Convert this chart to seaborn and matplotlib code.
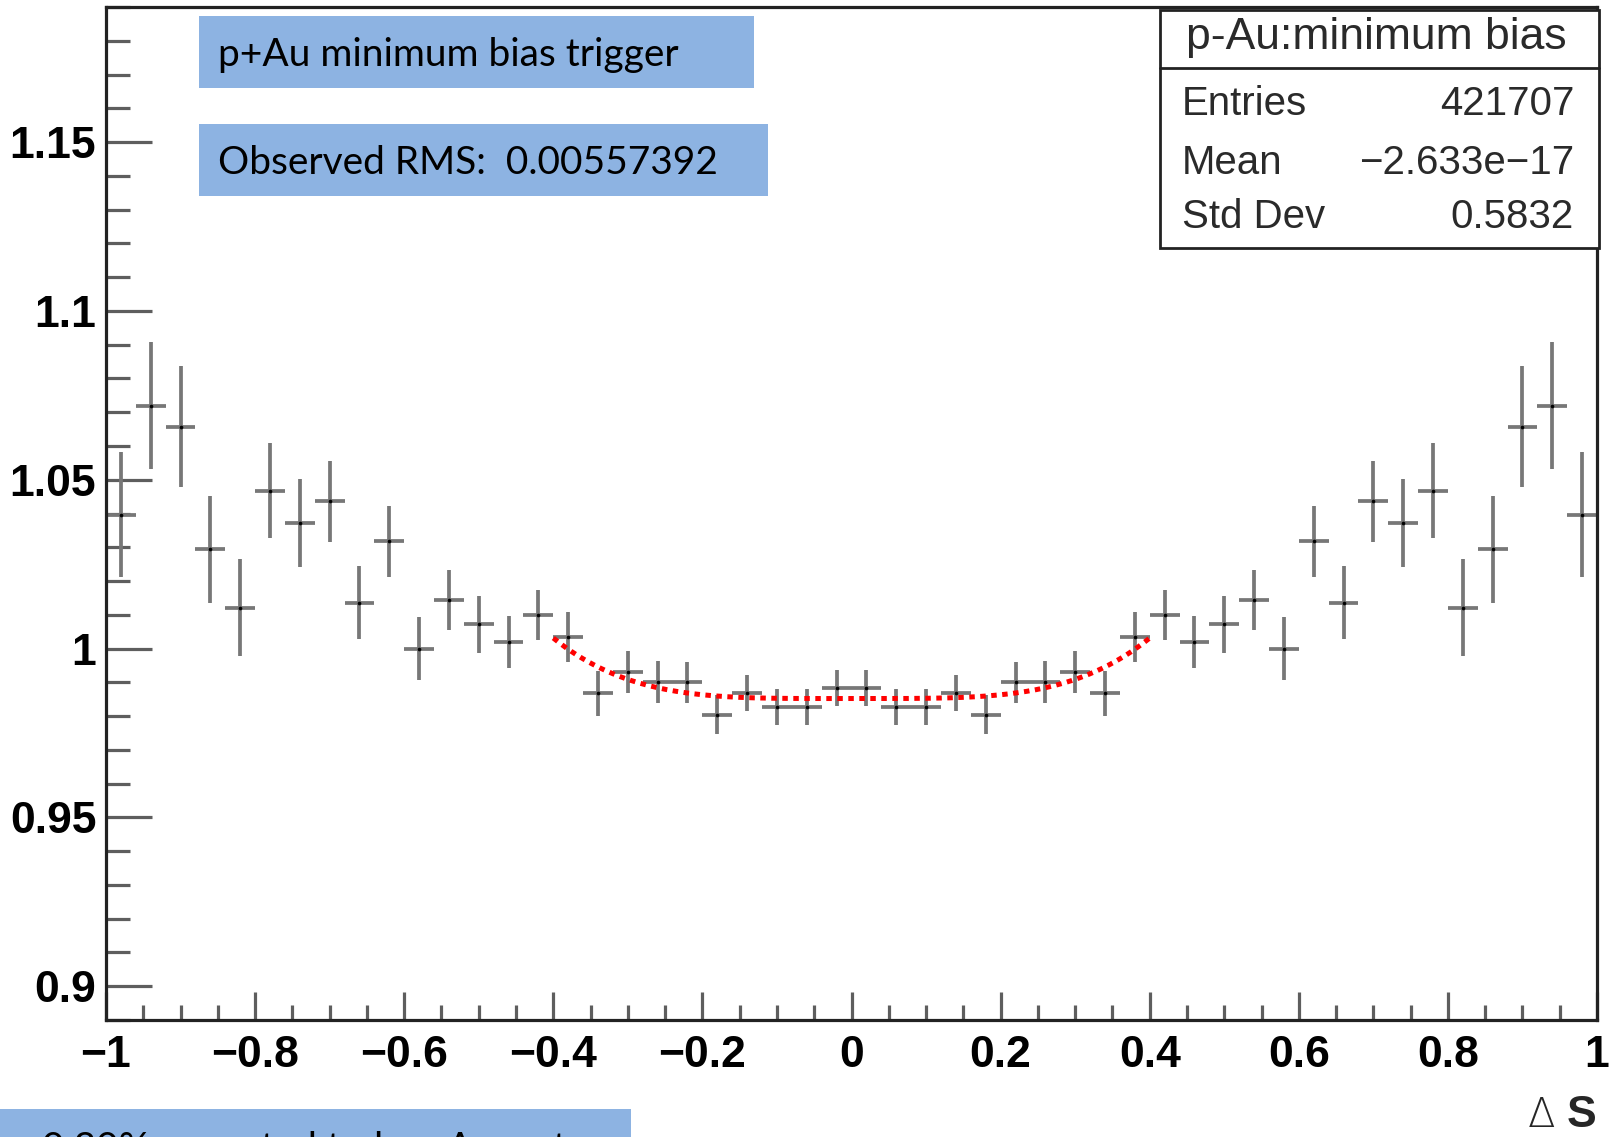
import numpy as np
import matplotlib
matplotlib.use("Agg")
import matplotlib.pyplot as plt
import seaborn as sns
from matplotlib.patches import Rectangle
from matplotlib.ticker import MultipleLocator

sns.set_style("ticks")

# histogram: 50 bins on [-1, 1]
n_bins = 50
x_lo, x_hi = -1.0, 1.0

ratio = [1.0397, 1.0719, 1.0657, 1.0294, 1.0121, 1.0467, 1.0372, 1.0436, 1.0136, 1.0318,
         1.0000, 1.0143, 1.0072, 1.0018, 1.0099, 1.0034, 0.9867, 0.9931, 0.9900, 0.9900,
         0.9804, 0.9869, 0.9827, 0.9827, 0.9884, 0.9884, 0.9827, 0.9827, 0.9869, 0.9804,
         0.9900, 0.9900, 0.9931, 0.9867, 1.0034, 1.0099, 1.0018, 1.0072, 1.0143, 1.0000,
         1.0318, 1.0136, 1.0436, 1.0372, 1.0467, 1.0121, 1.0294, 1.0657, 1.0719, 1.0397]
ratio_err = [0.0185, 0.0188, 0.0179, 0.0159, 0.0144, 0.0141, 0.0129, 0.0120, 0.0109, 0.0105,
             0.0093, 0.0089, 0.0085, 0.0077, 0.0073, 0.0074, 0.0068, 0.0062, 0.0062, 0.0061,
             0.0058, 0.0054, 0.0054, 0.0054, 0.0054, 0.0054, 0.0054, 0.0054, 0.0054, 0.0058,
             0.0061, 0.0062, 0.0062, 0.0068, 0.0074, 0.0073, 0.0077, 0.0085, 0.0089, 0.0093,
             0.0105, 0.0109, 0.0120, 0.0129, 0.0141, 0.0144, 0.0159, 0.0179, 0.0188, 0.0185]

# fit: p0 + p2*x^2 + p4*x^4 on [-0.4, 0.4]
fit_range = (-0.4, 0.4)
fit_p0, fit_p2, fit_p4 = 0.9852, 0.0, 0.70

stat_title = "p-Au:minimum bias"
stat_labels = ["Entries", "Mean", "Std Dev"]
stat_values = ["421707", "\u22122.633e\u221217", "0.5832"]

note_texts = ["p+Au minimum bias trigger", "Observed RMS:  0.00557392",
              "0.30% expected ted on Acceptance"]

W, H = 1610, 1137
fig = plt.figure(figsize=(W / 100, H / 100), dpi=100)
ax = fig.add_axes([106 / W, 1 - 1020 / H, 1491 / W, 1013 / H])

edges = np.linspace(x_lo, x_hi, n_bins + 1)
centers = 0.5 * (edges[:-1] + edges[1:])
half_w = 0.5 * (edges[1] - edges[0])

ax.errorbar(centers, ratio, yerr=ratio_err, xerr=half_w, fmt="none",
            ecolor="#777777", elinewidth=2.7, capsize=0, zorder=2)
sns.scatterplot(x=centers, y=ratio, color="black", s=7, linewidth=0, ax=ax, zorder=3)

xf = np.linspace(fit_range[0], fit_range[1], 200)
yf = fit_p0 + fit_p2 * xf ** 2 + fit_p4 * xf ** 4
sns.lineplot(x=xf, y=yf, color="red", linewidth=3.6, linestyle=(0, (1.1, 1.1)),
             ax=ax, zorder=4)

ax.set_xlim(x_lo, x_hi)
ax.set_ylim(0.89, 1.19)
ax.xaxis.set_major_locator(MultipleLocator(0.2))
ax.xaxis.set_minor_locator(MultipleLocator(0.05))
ax.yaxis.set_major_locator(MultipleLocator(0.05))
ax.yaxis.set_minor_locator(MultipleLocator(0.01))
ax.set_yticks([0.9, 0.95, 1.0, 1.05, 1.1, 1.15])
ax.set_yticklabels(["0.9", "0.95", "1", "1.05", "1.1", "1.15"])
ax.set_xticks([-1, -0.8, -0.6, -0.4, -0.2, 0, 0.2, 0.4, 0.6, 0.8, 1])
ax.set_xticklabels(["\u22121", "\u22120.8", "\u22120.6", "\u22120.4", "\u22120.2", "0",
                    "0.2", "0.4", "0.6", "0.8", "1"])

ax.tick_params(axis="both", which="both", direction="in", colors="#5e5e5e",
               width=2.3, top=False, right=False)
ax.tick_params(axis="y", which="major", length=33, pad=7)
ax.tick_params(axis="y", which="minor", length=17.5)
ax.tick_params(axis="x", which="major", length=20, pad=11)
ax.tick_params(axis="x", which="minor", length=11)
for lab in ax.get_xticklabels() + ax.get_yticklabels():
    lab.set_fontfamily("Liberation Sans")
    lab.set_fontweight("bold")
    lab.set_fontsize(32)
    lab.set_color("black")
for sp in ax.spines.values():
    sp.set_linewidth(2.3)
    sp.set_color("#222222")
ax.set_xlabel("")
ax.set_ylabel("")


def fx(px):
    return px / W


def fy(py):
    return 1 - py / H


# x-axis title
fig.text(fx(1596), fy(1127), "S", ha="right", va="baseline", fontsize=32,
         fontweight="bold", family="Liberation Sans")
fig.text(fx(1555), fy(1127), "\u0394", ha="right", va="baseline", fontsize=29,
         family="DejaVu Sans", fontweight="light")

# stat box
fig.add_artist(Rectangle((fx(1160), fy(248)), fx(1599) - fx(1160), fy(10) - fy(248),
                         transform=fig.transFigure, facecolor="white",
                         edgecolor="#222222", linewidth=2.0, zorder=5))
fig.add_artist(plt.Line2D([fx(1160), fx(1599)], [fy(68), fy(68)],
                          transform=fig.transFigure, color="#222222", linewidth=2.0, zorder=6))
stat_font = dict(family="Liberation Sans", fontsize=29, color="#2a2a2a", zorder=7)
fig.text(fx(1376), fy(49), stat_title, ha="center", va="baseline",
         **{**stat_font, "fontsize": 32})
for lab, val, base in zip(stat_labels, stat_values, [115, 174, 228]):
    fig.text(fx(1182), fy(base), lab, ha="left", va="baseline", **stat_font)
    fig.text(fx(1574), fy(base), val, ha="right", va="baseline", **stat_font)

# blue note boxes
blue = "#8db3e2"
boxes = [(199, 16, 754, 88), (199, 124, 768, 196), (0, 1109, 631, 1180)]
for (x0, y0, x1, y1) in boxes:
    fig.add_artist(Rectangle((fx(x0), fy(y1)), fx(x1) - fx(x0), fy(y0) - fy(y1),
                             transform=fig.transFigure, facecolor=blue,
                             edgecolor="none", zorder=5))
note_font = dict(family="Lato", fontsize=28, color="black", zorder=7)
fig.text(fx(218), fy(66), note_texts[0], ha="left", va="baseline", **note_font)
fig.text(fx(218), fy(174), note_texts[1], ha="left", va="baseline", **note_font)
fig.text(fx(42), fy(1160), note_texts[2], ha="left", va="baseline", **note_font)

fig.savefig("out.png", dpi=100)
